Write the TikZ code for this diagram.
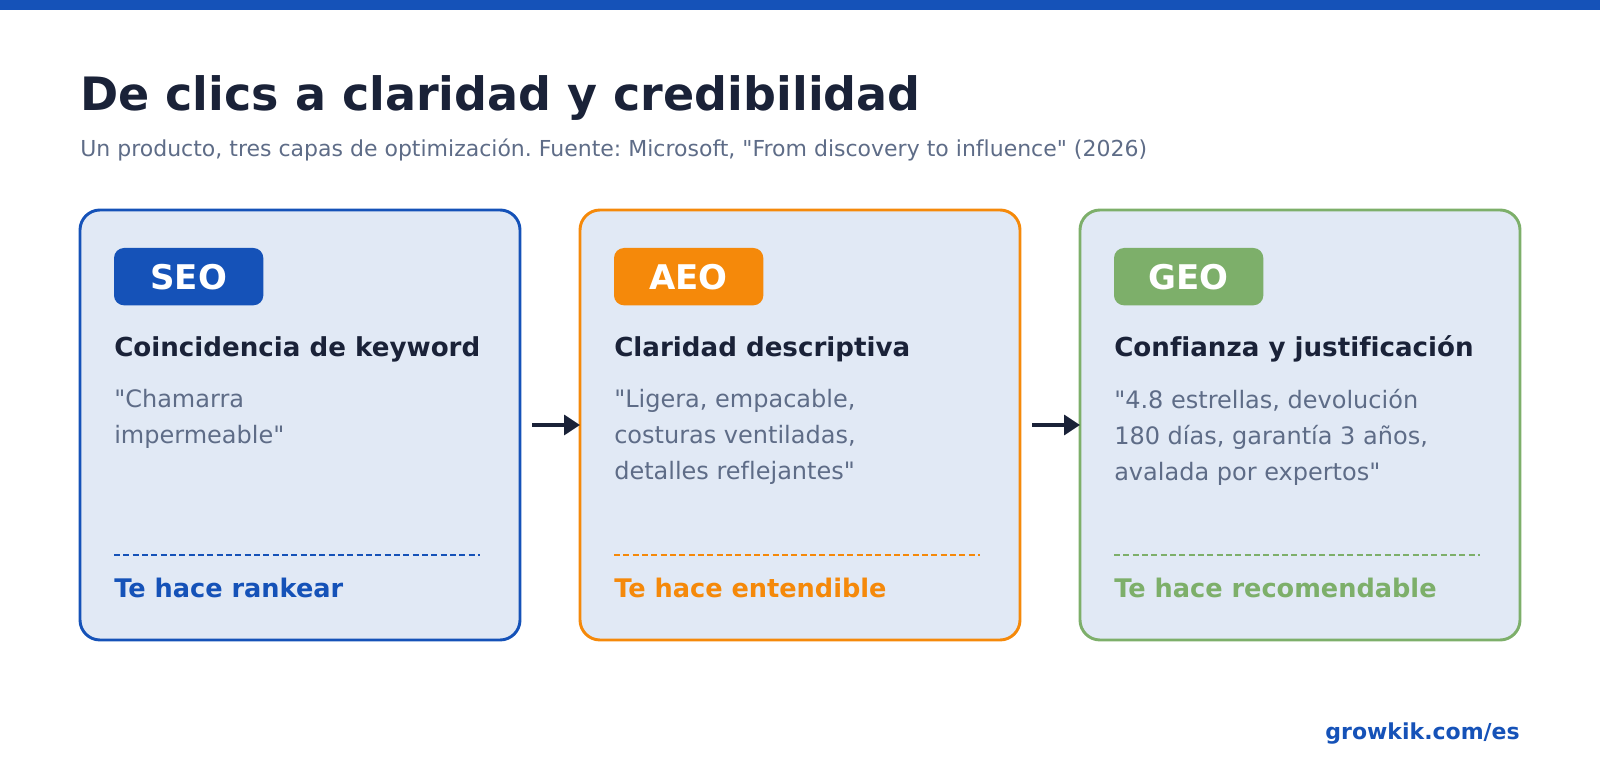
\documentclass[tikz,border=0pt]{standalone}
\usepackage{fontspec}
\setmainfont{DejaVu Sans}[Ligatures={TeXOff,NoCommon}]
\frenchspacing
\definecolor{growblue}{RGB}{21, 82, 184}
\definecolor{groworange}{RGB}{245, 137, 10}
\definecolor{growgreen}{RGB}{125, 175, 106}
\definecolor{cardfill}{RGB}{225, 233, 245}
\definecolor{navy}{RGB}{26, 34, 56}
\definecolor{slate}{RGB}{94, 108, 135}
\usetikzlibrary{arrows.meta, positioning, calc}
\tikzset{
	card/.style={rectangle, rounded corners=15pt, line width=2.2pt, fill=cardfill, minimum width=330pt, minimum height=322.5pt, inner sep=0pt, outer sep=0pt},
	badge/.style={rectangle, rounded corners=7.5pt, minimum width=112pt, minimum height=43pt, inner sep=0pt, outer sep=0pt, text=white, font=\bfseries\fontsize{25.5pt}{30pt}\selectfont},
	heading/.style={anchor=base west, inner sep=0pt, text=navy, font=\bfseries\fontsize{19.6pt}{23pt}\selectfont},
	snippet/.style={anchor=north west, inner sep=0pt, align=left, text=slate, font=\fontsize{18pt}{27pt}\selectfont},
	payoff/.style={anchor=base west, inner sep=0pt, font=\bfseries\fontsize{19.2pt}{23pt}\selectfont},
	divider/.style={dash pattern=on 4.5pt off 2.5pt, line width=1.4pt},
	arrow/.style={-{Triangle[length=12pt, width=15pt]}, line width=2.6pt, draw=navy, shorten <=9pt},
}
\begin{document}
\begin{tikzpicture}[x=0.75pt, y=-0.75pt]
		\useasboundingbox (0,0) rectangle (1600,780);
		\fill[growblue] (0,0) rectangle (1600,10);
		% title block
		\node[anchor=base west, inner sep=0pt, text=navy, font=\bfseries\fontsize{34.5pt}{40pt}\selectfont] (title) at (80,111) {De clics a claridad y credibilidad};
		\node[anchor=base west, inner sep=0pt, text=slate, font=\fontsize{16.5pt}{20pt}\selectfont] (subtitle) at (80,157) {Un producto, tres capas de optimización. Fuente: Microsoft, "From discovery to influence" (2026)};
		% three cards
		\node[card, draw=growblue, anchor=north west] (seo) at (80,210) {};
		\node[card, draw=groworange, right=45pt of seo] (aeo) {};
		\node[card, draw=growgreen, right=45pt of aeo] (geo) {};
		\node[badge, fill=growblue, below right=28.5pt and 25.5pt of seo.north west] (seotag) {SEO};
		\node[badge, fill=groworange, below right=28.5pt and 25.5pt of aeo.north west] (aeotag) {AEO};
		\node[badge, fill=growgreen, below right=28.5pt and 25.5pt of geo.north west] (geotag) {GEO};
		\node[heading] (seohead) at ($(seo.north west)+(34,147)$) {Coincidencia de keyword};
		\node[heading] (aeohead) at ($(aeo.north west)+(34,147)$) {Claridad descriptiva};
		\node[heading] (geohead) at ($(geo.north west)+(34,147)$) {Confianza y justificación};
		\node[snippet] (seotext) at ($(seo.north west)+(34,179)$) {"Chamarra\\impermeable"};
		\node[snippet] (aeotext) at ($(aeo.north west)+(34,179)$) {"Ligera, empacable,\\costuras ventiladas,\\detalles reflejantes"};
		\node[snippet] (geotext) at ($(geo.north west)+(34,179)$) {"4.8 estrellas, devolución\\180 días, garantía 3 años,\\avalada por expertos"};
		\foreach \c/\col in {seo/growblue,aeo/groworange,geo/growgreen}{\draw[divider, draw=\col] ($(\c.north west)+(34,345)$) -- ($(\c.north west)+(400,345)$);}
		\node[payoff, text=growblue] (seogain) at ($(seo.north west)+(34,387)$) {Te hace rankear};
		\node[payoff, text=groworange] (aeogain) at ($(aeo.north west)+(34,387)$) {Te hace entendible};
		\node[payoff, text=growgreen] (geogain) at ($(geo.north west)+(34,387)$) {Te hace recomendable};
		\foreach \a/\b in {seo/aeo,aeo/geo}{\draw[arrow] (\a) -- (\b);}
		\node[anchor=base east, inner sep=0pt, text=growblue, font=\bfseries\fontsize{16.5pt}{20pt}\selectfont] (site) at (1520,739) {growkik.com/es};
	\end{tikzpicture}
\end{document}
